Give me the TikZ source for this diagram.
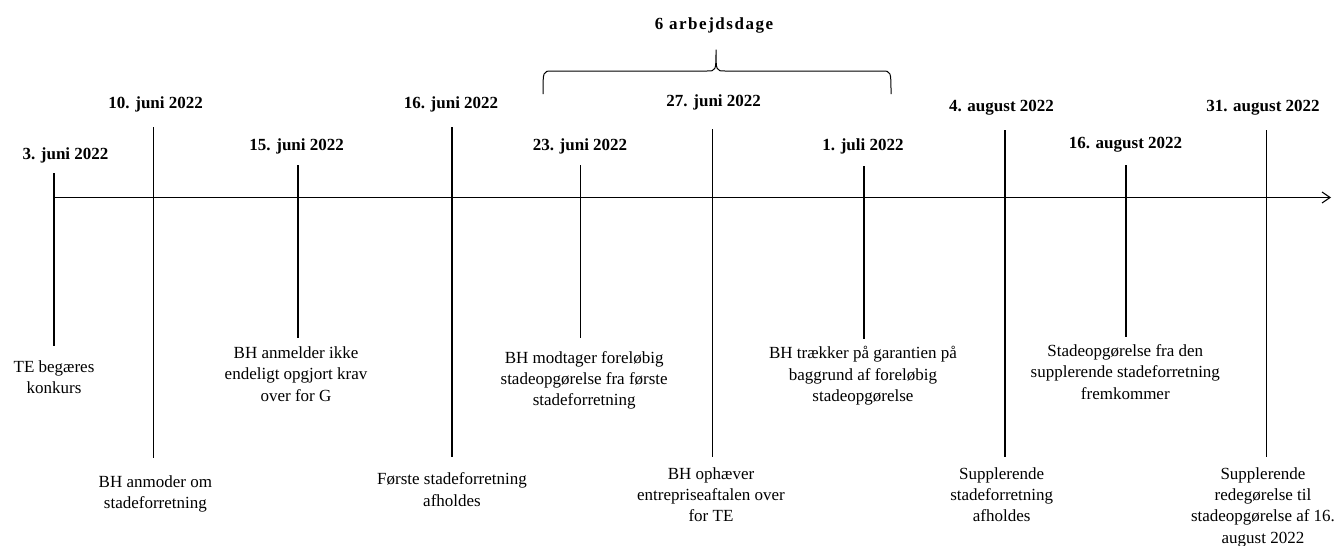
\documentclass[tikz,border=0pt]{standalone}
\usepackage{fontspec}
\setmainfont{Liberation Serif}
\usetikzlibrary{arrows.meta}
\begin{document}
\begin{tikzpicture}[x=1pt,y=-1pt,
  date/.style={font=\fontsize{17}{21}\selectfont\bfseries, inner sep=0pt, anchor=base},
  event/.style={font=\fontsize{17}{21.3}\selectfont, align=center, inner sep=0pt, anchor=north},
  tick/.style={line width=1.1pt},
  axis/.style={line width=1.1pt, -{Straight Barb[length=8pt,width=11pt,line width=1.1pt]}},
  brace/.style={line width=1pt, rounded corners=0pt}]
\useasboundingbox (0,0) rectangle (1341,546);

% axis
\coordinate (a0) at (54,197.5);
\coordinate (a1) at (1331,197.5);
\draw[axis] (a0) -- (a1);

% 1
\coordinate (t1) at (54,173); \coordinate (b1) at (54,346);
\draw[tick] (t1) -- (b1);
\node[date] (d1) at (65.5,159) {3. juni 2022};
\node[event] (e1) at (54,360.3) {TE begæres\\konkurs};
% 2
\coordinate (t2) at (153.5,127); \coordinate (b2) at (153.5,458);
\draw[tick] (t2) -- (b2);
\node[date] (d2) at (155.7,108.3) {10. juni 2022};
\node[event] (e2) at (155.4,475.6) {BH anmoder om\\stadeforretning};
% 3
\coordinate (t3) at (298,165); \coordinate (b3) at (298,338);
\draw[tick] (t3) -- (b3);
\node[date] (d3) at (296.7,150) {15. juni 2022};
\node[event] (e3) at (296,346.6) {BH anmelder ikke\\endeligt opgjort krav\\over for G};
% 4
\coordinate (t4) at (452,127); \coordinate (b4) at (452,457);
\draw[tick] (t4) -- (b4);
\node[date] (d4) at (451,108.3) {16. juni 2022};
\node[event] (e4) at (452,472.6) {Første stadeforretning\\afholdes};
% 5
\coordinate (t5) at (580.7,165); \coordinate (b5) at (580.7,338);
\draw[tick] (t5) -- (b5);
\node[date] (d5) at (580,150) {23. juni 2022};
\node[event] (e5) at (584.2,351) {BH modtager foreløbig\\stadeopgørelse fra første\\stadeforretning};
% 6
\coordinate (t6) at (712.7,129); \coordinate (b6) at (712.7,457);
\draw[tick] (t6) -- (b6);
\node[date] (d6) at (713.7,106) {27. juni 2022};
\node[event] (e6) at (711,467.3) {BH ophæver\\entrepriseaftalen over\\for TE};
% 7
\coordinate (t7) at (864,166); \coordinate (b7) at (864,339);
\draw[tick] (t7) -- (b7);
\node[date] (d7) at (863,150.7) {1. juli 2022};
\node[event] (e7) at (863,346.3) {BH trækker på garantien på\\baggrund af foreløbig\\stadeopgørelse};
% 8
\coordinate (t8) at (1005,130.3); \coordinate (b8) at (1005,457);
\draw[tick] (t8) -- (b8);
\node[date] (d8) at (1001.5,111) {4. august 2022};
\node[event] (e8) at (1001.7,467.3) {Supplerende\\stadeforretning\\afholdes};
% 9
\coordinate (t9) at (1126,165); \coordinate (b9) at (1126,337);
\draw[tick] (t9) -- (b9);
\node[date] (d9) at (1125.5,148.3) {16. august 2022};
\node[event] (e9) at (1125.3,344.3) {Stadeopgørelse fra den\\supplerende stadeforretning\\fremkommer};
% 10
\coordinate (t10) at (1266.7,130.3); \coordinate (b10) at (1266.7,457);
\draw[tick] (t10) -- (b10);
\node[date] (d10) at (1263,111) {31. august 2022};
\node[event] (e10) at (1263,467.3) {Supplerende\\redegørelse til\\stadeopgørelse af 16.\\august 2022};

% brace
\coordinate (bl) at (543,94);
\coordinate (bm) at (716,49.5);
\coordinate (br) at (891,94);
\draw[brace] (bl) .. controls (543,71) .. (552,71) -- (707,71)
  .. controls (716,71) .. (bm) .. controls (716,71) .. (725,71) -- (882,71)
  .. controls (891,71) .. (br);
\node[date, font=\fontsize{17}{21}\selectfont\bfseries\addfontfeature{LetterSpace=9}] (w) at (714,29.3) {6 arbejdsdage};
\end{tikzpicture}
\end{document}
